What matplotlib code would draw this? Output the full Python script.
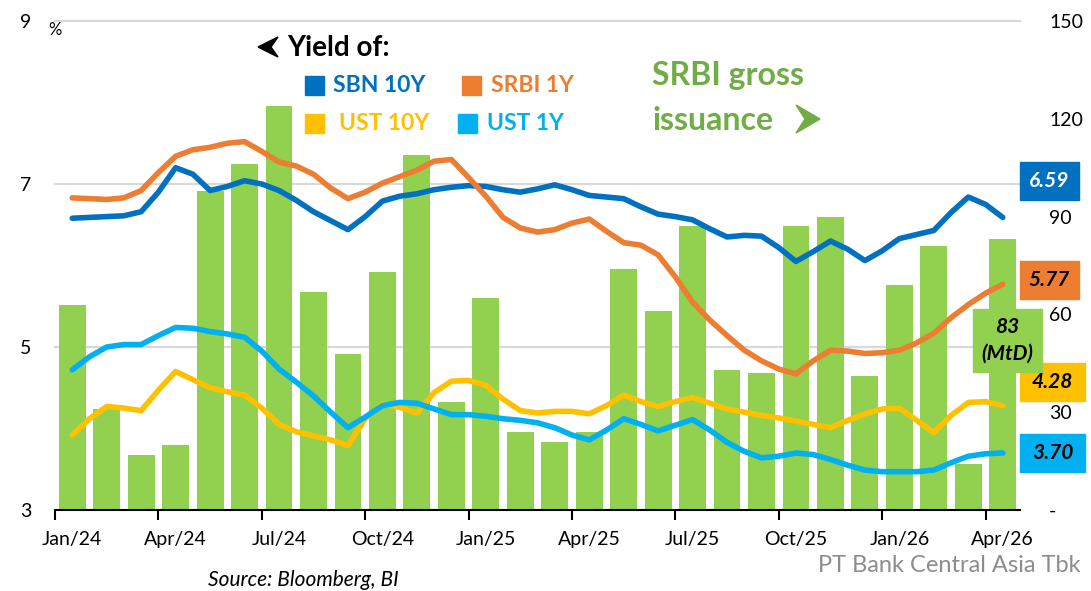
import numpy as np
import matplotlib.pyplot as plt
from matplotlib.patches import Rectangle, Polygon
from matplotlib.transforms import blended_transform_factory

plt.rcParams['font.family'] = ['Lato', 'DejaVu Sans']

W, H = 1091, 591

# monthly SRBI gross issuance (IDR tn), Jan/24 .. Apr/26 (last = MtD)
srbi_issuance = [63, 31, 17, 20, 98, 106, 124, 67, 48, 73, 109, 33, 65, 24,
                 21, 24, 74, 61, 87, 43, 42, 87, 90, 41, 69, 81, 14, 83]
tick_labels = ['Jan/24', 'Apr/24', 'Jul/24', 'Oct/24', 'Jan/25',
               'Apr/25', 'Jul/25', 'Oct/25', 'Jan/26', 'Apr/26']

# yields, read every half month on the monthly axis
line_pos = np.arange(0, 27.5, 0.5)
sbn_10y = [6.58, 6.59, 6.60, 6.61, 6.66, 6.90, 7.20, 7.12, 6.92, 6.97,
           7.04, 7.00, 6.92, 6.80, 6.66, 6.55, 6.44, 6.60, 6.79, 6.85,
           6.88, 6.93, 6.96, 6.98, 6.97, 6.93, 6.90, 6.94, 6.99, 6.93,
           6.86, 6.84, 6.82, 6.72, 6.63, 6.60, 6.56, 6.45, 6.35, 6.37,
           6.36, 6.22, 6.05, 6.17, 6.30, 6.20, 6.06, 6.18, 6.33, 6.38,
           6.43, 6.65, 6.84, 6.75, 6.59]
srbi_1y = [6.83, 6.82, 6.81, 6.83, 6.92, 7.14, 7.34, 7.42, 7.45, 7.50,
           7.52, 7.40, 7.27, 7.22, 7.12, 6.95, 6.82, 6.90, 7.01, 7.09,
           7.17, 7.28, 7.30, 7.08, 6.85, 6.59, 6.46, 6.41, 6.44, 6.52,
           6.57, 6.42, 6.28, 6.25, 6.13, 5.86, 5.55, 5.33, 5.14, 4.96,
           4.83, 4.73, 4.67, 4.83, 4.96, 4.95, 4.92, 4.93, 4.96, 5.05,
           5.17, 5.36, 5.52, 5.66, 5.77]
ust_10y = [3.92, 4.12, 4.27, 4.25, 4.22, 4.47, 4.70, 4.60, 4.50, 4.45,
           4.41, 4.25, 4.05, 3.96, 3.91, 3.86, 3.79, 4.12, 4.30, 4.26,
           4.19, 4.44, 4.58, 4.59, 4.53, 4.36, 4.22, 4.19, 4.21, 4.21,
           4.18, 4.28, 4.41, 4.33, 4.27, 4.33, 4.38, 4.31, 4.24, 4.20,
           4.16, 4.13, 4.09, 4.05, 4.01, 4.10, 4.18, 4.24, 4.25, 4.10,
           3.95, 4.16, 4.32, 4.33, 4.28]
ust_1y = [4.72, 4.88, 5.00, 5.03, 5.03, 5.14, 5.24, 5.23, 5.19, 5.16,
          5.12, 4.95, 4.73, 4.57, 4.40, 4.20, 4.01, 4.14, 4.28, 4.32,
          4.31, 4.24, 4.17, 4.17, 4.15, 4.12, 4.10, 4.07, 4.01, 3.92,
          3.86, 3.98, 4.12, 4.05, 3.97, 4.04, 4.11, 3.98, 3.83, 3.72,
          3.64, 3.66, 3.70, 3.68, 3.62, 3.55, 3.49, 3.47, 3.47, 3.47,
          3.49, 3.58, 3.66, 3.69, 3.70]

c_sbn, c_srbi, c_u10, c_u1 = '#0070C0', '#ED7D31', '#FFC000', '#00B0F0'
c_bar = '#92D050'


def px(x, y):
    return x / W, 1 - y / H


fig = plt.figure(figsize=(W / 100, H / 100), dpi=100)
ax2 = fig.add_axes([55 / W, 81 / H, 965 / W, 489 / H])   # bars, right axis
ax = ax2.twinx()                                          # yields, left axis
ax.yaxis.tick_left()
ax2.yaxis.tick_right()

# bars + grid (grid uses the yield scale, sits behind the bars)
n = len(srbi_issuance)
ax2.bar(np.arange(n), srbi_issuance, width=0.78, color=c_bar, zorder=2)
gtr = blended_transform_factory(ax2.transAxes, ax.transData)
for g in [5, 7, 9]:
    ax2.plot([0, 1], [g, g], transform=gtr, color='#D9D9D9', lw=1.6, zorder=1, clip_on=False)
ax2.set_ylim(0, 150)
ax2.set_yticks([0, 30, 60, 90, 120, 150])
ax2.set_yticklabels(['-', '30', '60', '90', '120', '150'])
ax2.tick_params(axis='y', length=0, pad=21, labelsize=14)
for lab in ax2.get_yticklabels():
    lab.set_horizontalalignment('left')

# lines
ax.plot(line_pos, sbn_10y, color=c_sbn, lw=4, solid_capstyle='round')
ax.plot(line_pos, srbi_1y, color=c_srbi, lw=4, solid_capstyle='round')
ax.plot(line_pos, ust_10y, color=c_u10, lw=4, solid_capstyle='round')
ax.plot(line_pos, ust_1y, color=c_u1, lw=4, solid_capstyle='round')
ax.set_ylim(3, 9)
ax.set_yticks([3, 5, 7, 9])
ax.tick_params(axis='y', length=0, pad=17, labelsize=14)

# x axis lives on the bar axes (the twin's x axis is hidden)
ax2.set_xlim(-0.5, n - 0.5)
ax2.set_xticks(np.arange(-0.5, n, 3))
ax2.set_xticklabels([])
ax2.set_xticks(np.arange(0, n, 3), minor=True)
ax2.set_xticklabels(tick_labels, minor=True, fontsize=14)
ax2.tick_params(axis='x', which='major', length=7, width=1.5, direction='out')
ax2.tick_params(axis='x', which='minor', length=0, pad=15, labelsize=14)

for a in (ax, ax2):
    for s in ['top', 'left', 'right']:
        a.spines[s].set_visible(False)
ax.spines['bottom'].set_visible(False)
ax2.spines['bottom'].set_linewidth(1.5)
ax2.spines['bottom'].set_zorder(5)

# "%" unit
fig.text(*px(55, 30), '%', fontsize=12, ha='center', va='center')

# title + legend
fig.add_artist(Polygon([px(258, 47), px(278, 37), px(271, 47), px(278, 57)],
                       closed=True, color='black', transform=fig.transFigure))
fig.text(*px(287, 48), 'Yield of:', fontsize=20, fontweight='bold', va='center')
legend_items = [('SBN 10Y', c_sbn, 305, 86, 333),
                ('SRBI 1Y', c_srbi, 462, 86, 491),
                ('UST 10Y', c_u10, 305, 124, 339),
                ('UST 1Y', c_u1, 458, 124, 487)]
for name, col, sx, sy, tx in legend_items:
    fig.add_artist(Rectangle(px(sx, sy + 9), 19 / W, 19 / H, color=col,
                             transform=fig.transFigure))
    fig.text(*px(tx, sy), name, fontsize=16.5, fontweight='bold', color=col, va='center')

fig.text(*px(652, 76), 'SRBI gross', fontsize=23, fontweight='bold', color='#70AD47', va='center')
fig.text(*px(652, 121), 'issuance', fontsize=23, fontweight='bold', color='#70AD47', va='center')
fig.add_artist(Polygon([px(820, 119), px(796, 105), px(805, 119), px(796, 133)],
                       closed=True, color='#70AD47', transform=fig.transFigure))

# last value boxes
boxes = [(sbn_10y[-1], c_sbn, 'white', 162, 59),
         (srbi_1y[-1], c_srbi, 'black', 261, 59),
         (ust_10y[-1], c_u10, 'black', 363, 65),
         (ust_1y[-1], c_u1, 'black', 434, 65)]
for val, col, tcol, top, bw in boxes:
    fig.add_artist(Rectangle(px(1020, top + 38), bw / W, 38 / H, color=col,
                             transform=fig.transFigure))
    fig.text(*px(1020 + bw / 2, top + 19), f'{val:.2f}', fontsize=15, fontweight='bold',
             style='italic', color=tcol, ha='center', va='center')

fig.add_artist(Rectangle(px(973, 372), 69 / W, 63 / H, color=c_bar,
                         transform=fig.transFigure))
fig.text(*px(1007, 327), f'{srbi_issuance[-1]}', fontsize=15, fontweight='bold',
         style='italic', ha='center', va='center')
fig.text(*px(1007, 354), '(MtD)', fontsize=15, fontweight='bold',
         style='italic', ha='center', va='center')

# footers
fig.text(*px(208, 580), 'Source: Bloomberg, BI', fontsize=15, style='italic', va='center')
fig.text(*px(818, 566), 'PT Bank Central Asia Tbk', fontsize=17, color='#8C8C8C', va='center')

plt.savefig('out.png', dpi=100)
